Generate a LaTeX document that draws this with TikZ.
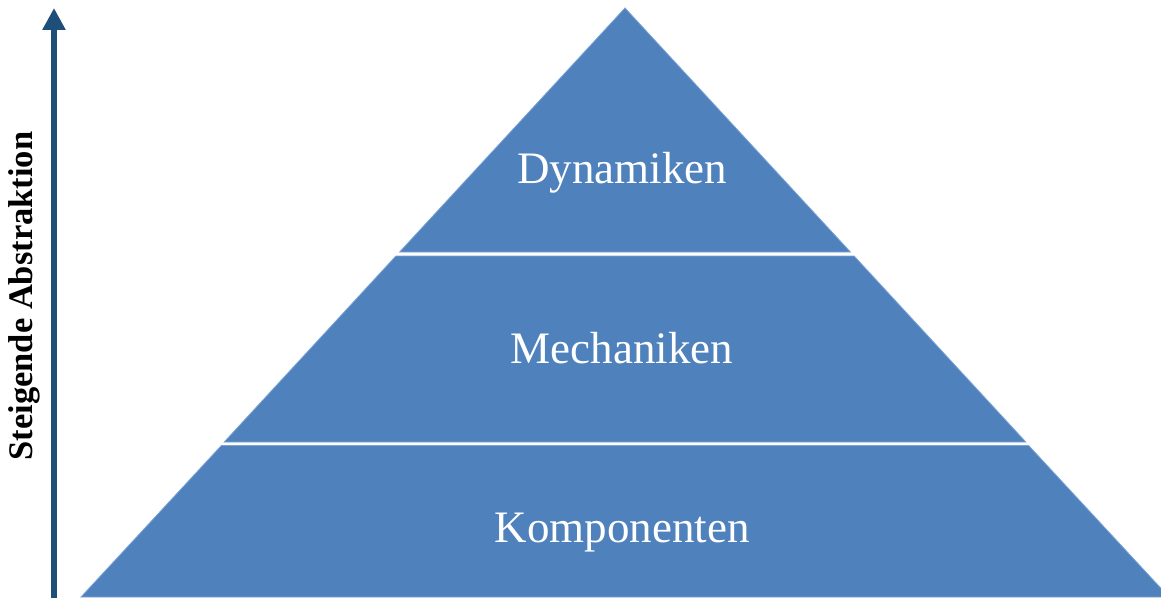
\documentclass[tikz,border=0pt]{standalone}
\usepackage{fontspec}
\setmainfont{Liberation Serif}
\usetikzlibrary{arrows.meta}
\definecolor{layerblue}{HTML}{4F81BD}
\definecolor{layeredge}{HTML}{7AA3D6}
\definecolor{axisblue}{HTML}{1F4E79}
\tikzset{
  layer/.style={fill=layerblue, draw=layeredge, line width=0.8pt, line join=miter},
  layerlabel/.style={text=white, font=\fontsize{45}{50}\selectfont, inner sep=0pt, anchor=base},
  axislabel/.style={font=\bfseries\fontsize{34.5}{38}\selectfont, rotate=90, inner sep=0pt, anchor=base},
  axisarrow/.style={draw=axisblue, line width=6pt, -{Triangle[width=22pt,length=22pt]}}
}
\begin{document}
\begin{tikzpicture}[x=1pt,y=-1pt]
  \useasboundingbox (0,0) rectangle (1161,599);
  \fill[white] (0,0) rectangle (1161,599);
  \begin{scope}
    \clip (0,0) rectangle (1161,599);
    % three stacked layers of the pyramid, separated by thin white gaps
    \draw[layer] (625,8) -- (850.4,252) -- (399.6,252) -- cycle;
    \draw[layer] (395.9,256) -- (854.1,256) -- (1025.8,442) -- (224.2,442) -- cycle;
    \draw[layer] (221.4,445.5) -- (1028.6,445.5) -- (1169,597) -- (81,597) -- cycle;
  \end{scope}
  \node[layerlabel] (dyn) at (622,183) {Dynamiken};
  \node[layerlabel] (mech) at (622,363) {Mechaniken};
  \node[layerlabel] (komp) at (622,542) {Komponenten};
  % abstraction axis
  \coordinate (axisbottom) at (54,598);
  \coordinate (axistop) at (54,8);
  \draw[axisarrow] (axisbottom) -- (axistop);
  \node[axislabel] (abstr) at (32,296) {Steigende Abstraktion};
\end{tikzpicture}
\end{document}
